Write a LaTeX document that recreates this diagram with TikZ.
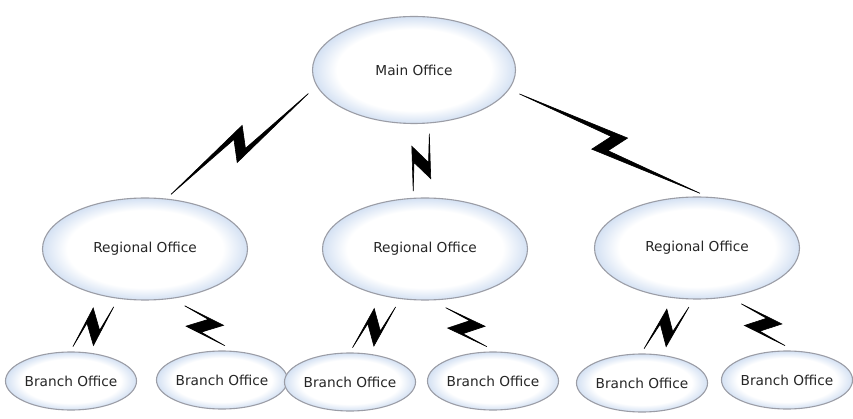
\documentclass[tikz,border=0pt]{standalone}
\usepackage{fontspec}
\setmainfont{DejaVu Sans}
\usetikzlibrary{shapes.geometric,calc}

\definecolor{glowblue}{RGB}{212,225,243}
\definecolor{rimgray}{RGB}{155,157,166}
\pgfdeclareradialshading{officeglow}{\pgfpoint{0bp}{0bp}}{color(0bp)=(white); color(19bp)=(white); color(25bp)=(glowblue); color(50bp)=(glowblue)}

\begin{document}
\begin{tikzpicture}[x=1pt, y=-1pt,
	office/.style={ellipse, draw=rimgray, line width=1.1pt, shade, shading=officeglow, inner sep=0pt, text=black!85, font=\fontsize{13.7}{16}\selectfont},
	mainoffice/.style={office, minimum width=203pt, minimum height=107pt},
	regoffice/.style={office, minimum width=205pt, minimum height=102pt},
	branchoffice/.style={office, minimum width=114pt, minimum height=58pt},
	bolt/.style={fill=black, line width=0.6pt, to path={
		($(\tikztostart)!7pt!(\tikztotarget)$) coordinate (bA)
		($(\tikztotarget)!11pt!(\tikztostart)$) coordinate (bB)
		($(bA)!0.5!(bB)$) coordinate (bM)
		(bA) -- ($(bM)!13pt!(bB)!13.5pt!90:(bB)$) -- ($(bM)!2pt!(bB)!-7pt!90:(bB)$)
		-- (bB) -- ($(bM)!-13pt!(bB)!-13.5pt!90:(bB)$) -- ($(bM)!-2pt!(bB)!7pt!90:(bB)$) -- cycle}}]
			\useasboundingbox (0,0) rectangle (853,419);
			
			\node[mainoffice] (main) at (414,70) {Main Office};
			
			\node[regoffice] (regL) at (145,249) {Regional Office};
			\node[regoffice] (regM) at (425,249) {Regional Office};
			\node[regoffice] (regR) at (697,248) {Regional Office};
			
			\node[branchoffice] (brL1) at (71,381) {Branch Office};
			\node[branchoffice] (brL2) at (222,380) {Branch Office};
			\node[branchoffice] (brM1) at (350,382) {Branch Office};
			\node[branchoffice] (brM2) at (493,381) {Branch Office};
			\node[branchoffice] (brR1) at (642,383) {Branch Office};
			\node[branchoffice] (brR2) at (787,380) {Branch Office};
			
			\draw[bolt] (regL.68) to (main.190);
			\draw[bolt] (regM.105) to (main.289);
			\draw[bolt] (regR.80) to (main.349);
			
			\draw[bolt] (brL1.96) to (regL.245);
			\draw[bolt] (brL2.75) to (regL.303);
			\draw[bolt] (brM1.95) to (regM.247);
			\draw[bolt] (brM2.92) to (regM.284);
			\draw[bolt] (brR1.96) to (regR.270);
			\draw[bolt] (brR2.84) to (regR.307);
		\end{tikzpicture}
\end{document}
